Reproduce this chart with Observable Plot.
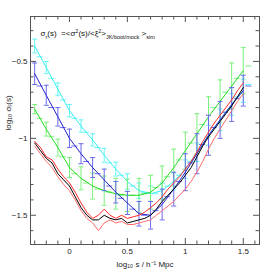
<!DOCTYPE html>
<html><head><meta charset="utf-8">
<script src="https://cdn.jsdelivr.net/npm/d3@7"></script>
<script src="https://cdn.jsdelivr.net/npm/@observablehq/plot@0.6"></script>
<style>body{margin:0;background:#fff} svg{display:block}</style>
</head><body><div id="chart"></div>
<script>
// ---- data ----
const xBins = [-0.3,-0.2,-0.1,0,0.1,0.2,0.3,0.4,0.5,0.6,0.7,0.8,0.9,1.0,1.1,1.2,1.3,1.4,1.5];
const cyanY   = [-0.40,-0.54,-0.68,-0.82,-0.92,-1.01,-1.11,-1.20,-1.28,-1.34,-1.36,-1.34,-1.28,-1.20,-1.09,-0.98,-0.88,-0.78,-0.69];
const cyanErr = [0.045,0.04,0.04,0.04,0.04,0.04,0.045,0.045,0.05,0.05,0.05,0.05,0.055,0.06,0.06,0.065,0.07,0.07,0.075];
const cyanDash= [-0.47,-0.61,-0.75,-0.87,-0.96,-1.06,-1.16,-1.24,-1.31,-1.35,-1.36,-1.31,-1.24,-1.15,-1.04,-0.93,-0.83,-0.73,-0.65];
const blueY   = [-0.58,-0.72,-0.86,-1.00,-1.10,-1.19,-1.27,-1.35,-1.42,-1.49,-1.50,-1.43,-1.33,-1.22,-1.10,-0.98,-0.88,-0.78,-0.69];
const blueErr = [0.07,0.065,0.06,0.06,0.065,0.065,0.07,0.07,0.075,0.08,0.09,0.10,0.11,0.12,0.13,0.13,0.12,0.11,0.10];
const blueDash= [-0.66,-0.80,-0.93,-1.05,-1.15,-1.23,-1.31,-1.39,-1.46,-1.50,-1.47,-1.38,-1.28,-1.16,-1.04,-0.93,-0.83,-0.74,-0.66];
const greenY  = [-0.81,-0.94,-1.06,-1.19,-1.26,-1.31,-1.34,-1.36,-1.37,-1.37,-1.35,-1.29,-1.19,-1.08,-0.97,-0.86,-0.76,-0.66,-0.56];
const greenErr= [0.03,0.045,0.055,0.065,0.075,0.085,0.095,0.10,0.105,0.11,0.11,0.11,0.12,0.12,0.13,0.13,0.14,0.15,0.15];
const greenDash=[-0.87,-0.99,-1.12,-1.23,-1.29,-1.33,-1.35,-1.37,-1.37,-1.36,-1.32,-1.25,-1.14,-1.03,-0.91,-0.80,-0.70,-0.61,-0.53];

const xFine = [-0.3,-0.25,-0.2,-0.15,-0.1,-0.05,0,0.05,0.1,0.15,0.2,0.25,0.3,0.35,0.4,0.45,0.5,0.55,0.6,0.65,0.7,0.75,0.8,0.85,0.9,0.95,1.0,1.05,1.1,1.15,1.2,1.25,1.3,1.35,1.4,1.45,1.5];
const blackY = [-1.03,-1.08,-1.13,-1.16,-1.23,-1.27,-1.31,-1.38,-1.45,-1.50,-1.53,-1.53,-1.50,-1.52,-1.53,-1.52,-1.55,-1.54,-1.53,-1.52,-1.50,-1.46,-1.41,-1.37,-1.33,-1.29,-1.24,-1.19,-1.12,-1.05,-0.99,-0.94,-0.89,-0.84,-0.79,-0.73,-0.67];
const redAY  = [-1.02,-1.06,-1.12,-1.14,-1.20,-1.25,-1.29,-1.35,-1.42,-1.48,-1.52,-1.50,-1.46,-1.50,-1.52,-1.50,-1.52,-1.51,-1.50,-1.48,-1.45,-1.42,-1.38,-1.33,-1.29,-1.25,-1.20,-1.15,-1.09,-1.02,-0.96,-0.90,-0.85,-0.80,-0.75,-0.69,-0.64];
const redBY  = [-1.05,-1.10,-1.15,-1.19,-1.25,-1.30,-1.34,-1.40,-1.47,-1.52,-1.55,-1.60,-1.55,-1.53,-1.55,-1.54,-1.56,-1.56,-1.55,-1.54,-1.53,-1.50,-1.47,-1.44,-1.41,-1.37,-1.33,-1.28,-1.22,-1.15,-1.07,-1.00,-0.94,-0.88,-0.82,-0.76,-0.71];

const xMajor = [0,0.5,1,1.5];
const xMinor = [-0.3,-0.2,-0.1,0.1,0.2,0.3,0.4,0.6,0.7,0.8,0.9,1.1,1.2,1.3,1.4,1.6];
const yMajor = [-0.5,-1,-1.5];
const yMinor = [-0.3,-0.4,-0.6,-0.7,-0.8,-0.9,-1.1,-1.2,-1.3,-1.4,-1.6];
const xLabel = "log\u2081\u2080 s / h\u207B\u00B9 Mpc";
const yLabel = "log\u2081\u2080 \u03C3\u1D63(s)";
const titleText = "TITLE";

// ---- layout ----
const W = 274, H = 274, mL = 30, mR = 15, mT = 16, mB = 30;
const FW = W - mL - mR, FH = H - mT - mB;
const hbar = {draw(ctx, size) { const r = Math.sqrt(size / Math.PI); ctx.moveTo(-r, 0); ctx.lineTo(r, 0); }};

function series(ys, errs, dashes) {
  return xBins.map((x, i) => ({x, y: ys[i], lo: ys[i] - errs[i], hi: ys[i] + errs[i], d: dashes[i]}));
}
const cyan = series(cyanY, cyanErr, cyanDash);
const blue = series(blueY, blueErr, blueDash);
const green = series(greenY, greenErr, greenDash);
const fine = (ys) => xFine.map((x, i) => ({x, y: ys[i]}));

const C = {cyan: "#33f0f0", cyanBar: "#66f5f5", blue: "#2222cc", blueBar: "#6a6af0", green: "#22dd22", greenBar: "#7cf07c", red: "#ff2a2a", redLight: "#ff6a6a"};

function errMarks(data, line, bar) {
  return [
    Plot.ruleX(data, {x: "x", y1: "lo", y2: "hi", stroke: bar, strokeWidth: 1}),
    Plot.dot(data, {x: "x", y: "lo", symbol: hbar, r: 2.5, stroke: bar, strokeWidth: 1}),
    Plot.dot(data, {x: "x", y: "hi", symbol: hbar, r: 2.5, stroke: bar, strokeWidth: 1}),
    Plot.dot(data, {x: "x", y: "d", symbol: hbar, r: 3, dx: 5, stroke: bar, strokeWidth: 1}),
    Plot.line(data, {x: "x", y: "y", stroke: line, strokeWidth: 1})
  ];
}

const chart = Plot.plot({
  width: W, height: H,
  marginLeft: mL, marginRight: mR, marginTop: mT, marginBottom: mB,
  style: {fontFamily: "'Liberation Sans', Arial, sans-serif", fontSize: "8px", background: "#fff", color: "#222"},
  x: {domain: [-0.336, 1.64]},
  y: {domain: [-1.69, -0.208]},
  marks: [
    Plot.frame({stroke: "#555"}),
    // ticks (inward)
    Plot.tickX(xMajor, {x: d => d, insetTop: FH - 6, stroke: "#555"}),
    Plot.tickX(xMinor, {x: d => d, insetTop: FH - 3.5, stroke: "#555"}),
    Plot.tickX(xMajor, {x: d => d, insetBottom: FH - 6, stroke: "#555"}),
    Plot.tickX(xMinor, {x: d => d, insetBottom: FH - 3.5, stroke: "#555"}),
    Plot.tickY(yMajor, {y: d => d, insetRight: FW - 6, stroke: "#555"}),
    Plot.tickY(yMinor, {y: d => d, insetRight: FW - 3.5, stroke: "#555"}),
    Plot.tickY(yMajor, {y: d => d, insetLeft: FW - 6, stroke: "#555"}),
    Plot.tickY(yMinor, {y: d => d, insetLeft: FW - 3.5, stroke: "#555"}),
    Plot.axisX(xMajor, {tickSize: 0, tickPadding: 4, tickFormat: d => String(d), label: null}),
    Plot.axisY(yMajor, {tickSize: 0, tickPadding: 3, tickFormat: d => String(d).replace("-", "\u2212"), label: null}),
    Plot.text([xLabel], {frameAnchor: "bottom", dy: 20, lineAnchor: "middle", fontSize: 8, fill: "#222"}),
    Plot.text([yLabel], {frameAnchor: "left", dx: -22, rotate: -90, fontSize: 8, fill: "#222"}),
    ...errMarks(cyan, C.cyan, C.cyanBar),
    ...errMarks(green, C.green, C.greenBar),
    ...errMarks(blue, C.blue, C.blueBar),
    Plot.line(fine(redAY), {x: "x", y: "y", stroke: C.red, strokeWidth: 1}),
    Plot.line(fine(redBY), {x: "x", y: "y", stroke: C.redLight, strokeWidth: 1}),
    Plot.line(fine(blackY), {x: "x", y: "y", stroke: "#000", strokeWidth: 1}),
    Plot.text([titleText], {frameAnchor: "top-left", dx: 10, dy: 14, textAnchor: "start", fontSize: 8, fill: "#111"})
  ]
});
document.getElementById("chart").appendChild(chart);

// rich text for the in-plot label (sub/superscripts)
chart.querySelectorAll("text").forEach(t => {
  if (t.textContent === "TITLE") {
    const parts = [
      ["\u03C3", null], ["r", "sub"], ["(s)  =<\u03C3", null], ["2", "super"], ["(s)/<\u03BE", null], ["2", "super"], [">", null], ["JK/boot/mock", "sub"], [" >", null], ["sim", "sub"]
    ];
    t.textContent = "";
    for (const [s, shift] of parts) {
      const ts = document.createElementNS("http://www.w3.org/2000/svg", "tspan");
      ts.textContent = s;
      if (shift) { ts.setAttribute("baseline-shift", shift); ts.setAttribute("font-size", "5.5"); }
      t.appendChild(ts);
    }
  }
});
</script>
</body></html>
